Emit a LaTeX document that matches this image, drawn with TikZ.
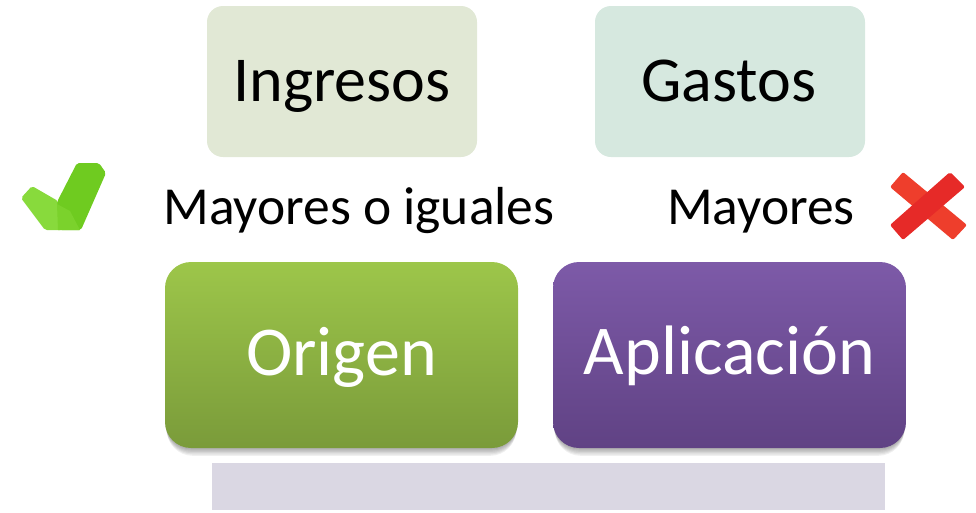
\documentclass[tikz,border=0pt]{standalone}
\usepackage{fontspec}
\setmainfont{Carlito}
\definecolor{inglight}{HTML}{E1E8D5}
\definecolor{gaslight}{HTML}{D6E8DF}
\definecolor{origtop}{HTML}{9DC64A}
\definecolor{origbot}{HTML}{7A9B3A}
\definecolor{apltop}{HTML}{7D5AA8}
\definecolor{aplbot}{HTML}{604284}
\definecolor{barcol}{HTML}{DAD7E3}
\definecolor{chkA}{HTML}{88DA3C}
\definecolor{chkB}{HTML}{6FCB20}
\definecolor{chkC}{HTML}{7BD22C}
\definecolor{crsA}{HTML}{EE3E2C}
\definecolor{crsB}{HTML}{E62A28}
\tikzset{
  topbox/.style={rectangle, rounded corners=16pt, minimum width=270pt, minimum height=151pt, inner sep=0pt},
  mainbox/.style={rectangle, rounded corners=26pt, minimum width=353pt, minimum height=186pt, inner sep=0pt},
  toptext/.style={inner sep=0pt, anchor=base, font=\fontsize{64}{76}\selectfont},
  maintext/.style={inner sep=0pt, anchor=base, text=white, font=\fontsize{70}{84}\selectfont},
  lbl/.style={inner sep=0pt, anchor=base, font=\fontsize{53.5}{64}\selectfont},
  softshadow/.style={fill=black, opacity=0.06, rounded corners=26pt},
}
\begin{document}
\begin{tikzpicture}[x=1pt,y=-1pt]
\useasboundingbox (0,0) rectangle (976,512);
% top boxes
\node[topbox, fill=inglight] (ing) at (342,81.5) {};
\node[topbox, fill=gaslight] (gas) at (730,81.5) {};
\node[toptext] (ingt) at (342,101) {Ingresos};
\node[toptext] (gast) at (729,101) {Gastos};
% labels
\node[lbl] (may1) at (359,224) {Mayores o iguales};
\node[lbl] (may2) at (761,224) {Mayores};
% soft shadows
\foreach \d in {1,2,3,4,5,6}{
  \fill[softshadow] (165+\d*0.3,262+\d*1.3) rectangle (518-\d*0.3,448+\d*1.3);
  \fill[softshadow] (553+\d*0.3,262+\d*1.3) rectangle (906-\d*0.3,448+\d*1.3);
}
% main boxes
\node[mainbox, top color=origtop, bottom color=origbot] (ori) at (341.5,355) {};
\node[mainbox, top color=apltop, bottom color=aplbot] (apl) at (729.5,355) {};
\node[maintext] (orit) at (341.5,375) {Origen};
\node[maintext] (aplt) at (729.5,374) {Aplicación};
% bottom bar
\node[rectangle, fill=barcol, minimum width=673pt, minimum height=47pt, inner sep=0pt] (bar) at (548.5,486.5) {};
% check mark
\fill[chkA, rounded corners=2pt] (32,186) -- (21,198) -- (45,230) -- (62,230) -- (58,201) -- cycle;
\fill[chkB, rounded corners=2pt] (57,202) -- (77,163) -- (99,163) -- (106,173) -- (81,230) -- (60,230) -- cycle;
\fill[chkC] (57,204) -- (70,211) -- (80,230) -- (58,230) -- cycle;
% cross
\fill[crsA, rounded corners=2pt] (890,187) -- (903,172) -- (967,225) -- (953,240) -- cycle;
\fill[crsB, rounded corners=2pt] (950,172) -- (965,187) -- (903,240) -- (890,225) -- cycle;
\end{tikzpicture}
\end{document}
